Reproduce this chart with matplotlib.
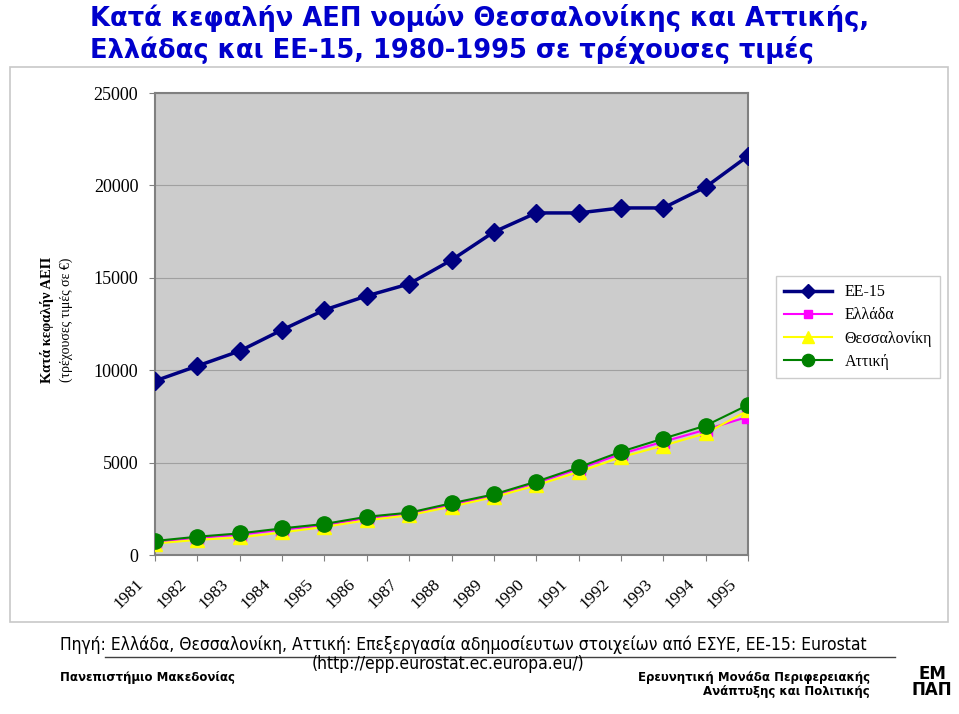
import matplotlib.pyplot as plt
import matplotlib.transforms as mtransforms
from matplotlib.patches import Rectangle

years = ["1981", "1982", "1983", "1984", "1985", "1986", "1987", "1988",
         "1989", "1990", "1991", "1992", "1993", "1994", "1995"]
ee15 = [9420, 10230, 11040, 12180, 13260, 14020, 14670, 15960,
        17480, 18510, 18510, 18780, 18780, 19910, 21590]
ellada = [700, 930, 1100, 1370, 1610, 2000, 2230, 2720,
          3210, 3900, 4660, 5470, 6130, 6780, 7480]
thess = [620, 820, 950, 1220, 1520, 1880, 2150, 2620,
         3130, 3770, 4490, 5290, 5920, 6580, 7820]
attiki = [760, 990, 1170, 1440, 1680, 2070, 2290, 2800,
          3280, 3970, 4740, 5590, 6300, 7000, 8120]

serif = "Liberation Serif"

fig = plt.figure(figsize=(9.59, 7.14), dpi=100)

# chart frame
fig.patches.append(Rectangle((10 / 959, 1 - 622 / 714), 938 / 959, 555 / 714,
                             transform=fig.transFigure, fill=False,
                             edgecolor="#c8c8c8", linewidth=1.2))

ax = fig.add_axes([155 / 959, 1 - 555 / 714, 593 / 959, 462 / 714])
ax.set_facecolor("#cccccc")
x = list(range(len(years)))

ax.plot(x, ee15, color="#000080", marker="D", markersize=9, linewidth=2.5, label="ΕΕ-15", zorder=3)
ax.plot(x, ellada, color="#ff00ff", marker="s", markersize=8, linewidth=1.5, label="Ελλάδα", zorder=3)
ax.plot(x, thess, color="#ffff00", marker="^", markersize=10, linewidth=1.5, label="Θεσσαλονίκη", zorder=3)
ax.plot(x, attiki, color="#008000", marker="o", markersize=11, linewidth=1.5, label="Αττική", zorder=4)

ax.set_xlim(0, len(years) - 1)
ax.set_ylim(0, 25000)
ax.set_yticks(range(0, 25001, 5000))
ax.yaxis.grid(True, color="#a0a0a0", linewidth=0.8)
ax.set_axisbelow(True)
for s in ax.spines.values():
    s.set_color("#808080")
    s.set_linewidth(1.5)
ax.tick_params(axis="y", length=4, color="#808080", labelsize=13, pad=8)
ax.tick_params(axis="x", length=4, color="#808080", labelsize=12.5)
for lab in ax.get_yticklabels():
    lab.set_fontfamily(serif)
ax.set_xticks(x)
ax.set_xticklabels(years, rotation=45, ha="right", va="top", fontfamily=serif)
offset = mtransforms.ScaledTranslation(-0.08, -0.11, fig.dpi_scale_trans)
for lab in ax.get_xticklabels():
    lab.set_transform(lab.get_transform() + offset)

leg = ax.legend(loc="center left", bbox_to_anchor=(768 / 959, 1 - 327 / 714),
                bbox_transform=fig.transFigure, prop={"family": serif, "size": 11.5},
                frameon=True, fancybox=False, edgecolor="#c0c0c0",
                handlelength=3.0, borderpad=0.5, labelspacing=0.45, markerscale=0.8)
leg.get_frame().set_linewidth(1.0)

fig.text(47 / 959, 1 - 320 / 714, "Κατά κεφαλήν ΑΕΠ", rotation=90, ha="center", va="center",
         fontfamily=serif, fontweight="bold", fontsize=10.5)
fig.text(66 / 959, 1 - 320 / 714, "(τρέχουσες τιμές σε €)", rotation=90, ha="center", va="center",
         fontfamily=serif, fontsize=10)

# title
fig.text(480 / 959, 1 - 18 / 714, "Κατά κεφαλήν ΑΕΠ νομών Θεσσαλονίκης και Αττικής,",
         ha="center", va="center", color="#0000cc", fontweight="bold", fontsize=18.5,
         fontfamily="DejaVu Sans")
fig.text(452 / 959, 1 - 50 / 714, "Ελλάδας και ΕΕ-15, 1980-1995 σε τρέχουσες τιμές",
         ha="center", va="center", color="#0000cc", fontweight="bold", fontsize=18.5,
         fontfamily="DejaVu Sans")

# footer
fig.text(463 / 959, 1 - 645 / 714,
         "Πηγή: Ελλάδα, Θεσσαλονίκη, Αττική: Επεξεργασία αδημοσίευτων στοιχείων από ΕΣΥΕ, ΕΕ-15: Eurostat",
         ha="center", va="center", fontsize=12.5, fontfamily="DejaVu Sans", fontstretch="condensed")
fig.text(448 / 959, 1 - 664 / 714, "(http://epp.eurostat.ec.europa.eu/)",
         ha="center", va="center", fontsize=12.5, fontfamily="DejaVu Sans", fontstretch="condensed")
fig.lines.append(plt.Line2D([105 / 959, 895 / 959], [1 - 657 / 714, 1 - 657 / 714],
                            transform=fig.transFigure, color="#404040", linewidth=1))
fig.text(60 / 959, 1 - 678 / 714, "Πανεπιστήμιο Μακεδονίας", ha="left", va="center",
         fontsize=8.5, fontweight="bold", fontfamily="DejaVu Sans")
fig.text(870 / 959, 1 - 678 / 714, "Ερευνητική Μονάδα Περιφερειακής", ha="right", va="center",
         fontsize=8.5, fontweight="bold", fontfamily="DejaVu Sans")
fig.text(870 / 959, 1 - 692 / 714, "Ανάπτυξης και Πολιτικής", ha="right", va="center",
         fontsize=8.5, fontweight="bold", fontfamily="DejaVu Sans")
fig.text(932 / 959, 1 - 682 / 714, "ΕΜ\nΠΑΠ", ha="center", va="center", linespacing=0.9,
         fontsize=12, fontweight="bold", fontfamily="DejaVu Sans")

fig.savefig("out.png", dpi=100)
